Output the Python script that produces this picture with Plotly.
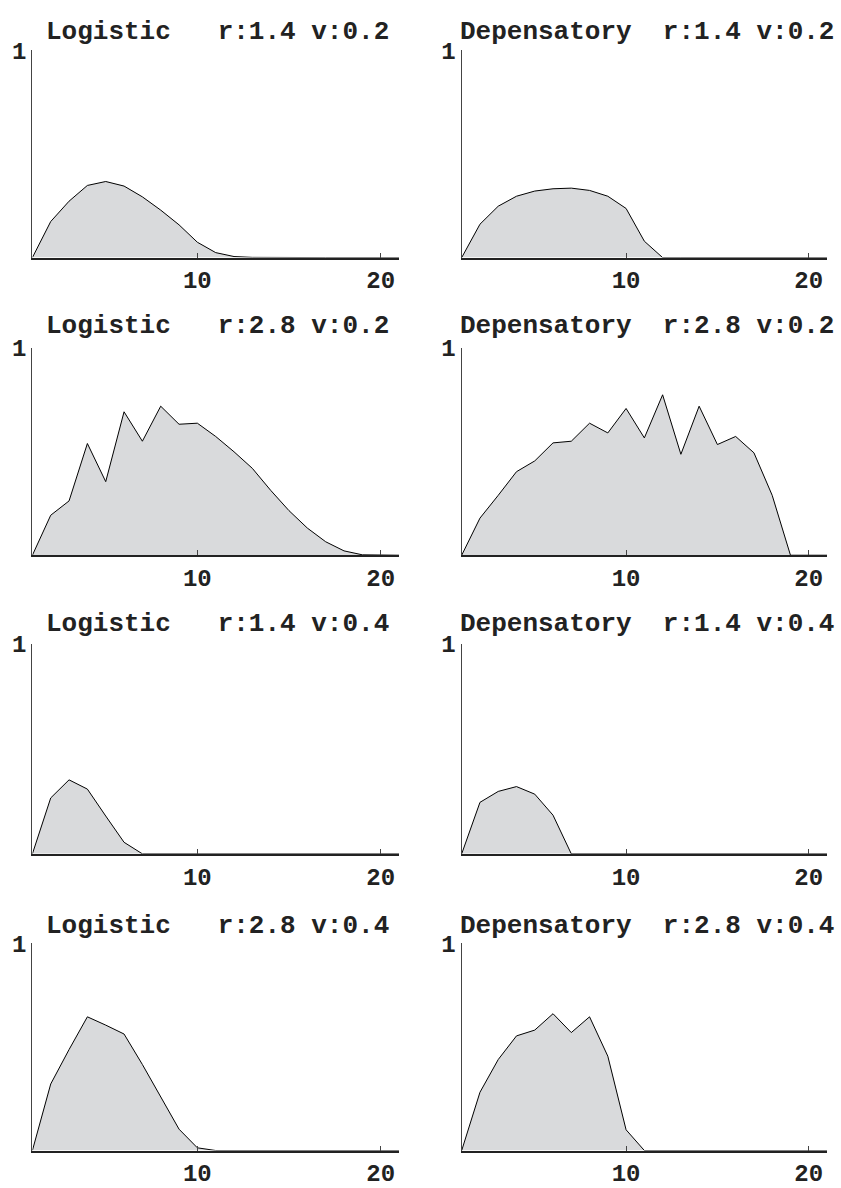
import plotly.graph_objects as go

# ---- data ----
steps = list(range(1, 22))

logistic_r14_v02 = [0, 0.174, 0.272, 0.348, 0.367, 0.345, 0.293, 0.229, 0.158, 0.074, 0.024,
                    0.005, 0.001, 0, 0, 0, 0, 0, 0, 0, 0]
depens_r14_v02 = [0, 0.161, 0.248, 0.296, 0.321, 0.332, 0.335, 0.324, 0.296, 0.237, 0.079,
                  0, 0, 0, 0, 0, 0, 0, 0, 0, 0]
logistic_r28_v02 = [0, 0.193, 0.262, 0.539, 0.355, 0.692, 0.550, 0.719, 0.632, 0.637, 0.573,
                    0.499, 0.419, 0.313, 0.215, 0.131, 0.065, 0.021, 0.002, 0, 0]
depens_r28_v02 = [0, 0.179, 0.289, 0.403, 0.455, 0.542, 0.550, 0.637, 0.590, 0.708, 0.566,
                  0.774, 0.487, 0.719, 0.534, 0.573, 0.494, 0.289, 0, 0, 0]
logistic_r14_v04 = [0, 0.266, 0.352, 0.308, 0.180, 0.055, 0, 0, 0, 0, 0,
                    0, 0, 0, 0, 0, 0, 0, 0, 0, 0]
depens_r14_v04 = [0, 0.245, 0.297, 0.320, 0.284, 0.184, 0, 0, 0, 0, 0,
                  0, 0, 0, 0, 0, 0, 0, 0, 0, 0]
logistic_r28_v04 = [0, 0.321, 0.487, 0.645, 0.605, 0.562, 0.415, 0.258, 0.103, 0.013, 0,
                    0, 0, 0, 0, 0, 0, 0, 0, 0, 0]
depens_r28_v04 = [0, 0.281, 0.439, 0.553, 0.581, 0.660, 0.569, 0.645, 0.455, 0.100, 0,
                  0, 0, 0, 0, 0, 0, 0, 0, 0, 0]

models = ["Logistic", "Depensatory"]
r_values = ["1.4", "2.8", "1.4", "2.8"]
v_values = ["0.2", "0.2", "0.4", "0.4"]
x_ticks = [10, 20]
y_ticks = [1]

panels = [
    [logistic_r14_v02, depens_r14_v02],
    [logistic_r28_v02, depens_r28_v02],
    [logistic_r14_v04, depens_r14_v04],
    [logistic_r28_v04, depens_r28_v04],
]

# ---- layout geometry (pixels) ----
W, H = 841, 1188
col_x = [(32.4, 399.0), (461.7, 827.0)]
row_y = [(39, 250), (342, 553), (643, 857), (948, 1159)]  # (top, bottom)
title_y = [20, 320, 623, 930]
title_cx = [218, 647]

font_family = "Liberation Mono, Courier New, monospace"
NB = "\u00a0"

fig = go.Figure()
annotations = []
idx = 0
for r in range(4):
    for c in range(2):
        idx += 1
        xa = "x" if idx == 1 else f"x{idx}"
        ya = "y" if idx == 1 else f"y{idx}"
        fig.add_trace(go.Scatter(
            x=steps, y=panels[r][c], mode="lines",
            line=dict(color="black", width=1),
            fill="tozeroy", fillcolor="#d9dadc",
            xaxis=xa, yaxis=ya, showlegend=False, hoverinfo="skip",
        ))
        x0, x1 = col_x[c]
        top, bot = row_y[r]
        fig.layout[f"xaxis{'' if idx == 1 else idx}"] = dict(
            domain=[x0 / W, x1 / W], range=[1, 21], anchor=ya,
            showgrid=False, zeroline=False, showline=True, linecolor="#222", linewidth=2,
            ticks="inside", ticklen=5, tickwidth=1, tickcolor="#444",
            tickvals=x_ticks, ticktext=[str(t) for t in x_ticks],
            tickfont=dict(family=font_family, size=24, color="#222", weight="bold"),
        )
        fig.layout[f"yaxis{'' if idx == 1 else idx}"] = dict(
            domain=[1 - bot / H, 1 - top / H], range=[0, 1], anchor=xa,
            showgrid=False, zeroline=False, showline=True, linecolor="#444", linewidth=1.3,
            ticks="inside", ticklen=3, tickwidth=1, tickcolor="#444",
            tickvals=y_ticks, ticktext=[str(t) for t in y_ticks],
            tickfont=dict(family=font_family, size=24, color="#222", weight="bold"),
        )
        gap = NB * 3 if c == 0 else NB * 2
        text = f"{models[c]}{gap}r:{r_values[r]}{NB}v:{v_values[r]}"
        annotations.append(dict(
            text=text, xref="paper", yref="paper",
            x=title_cx[c] / W, y=1 - title_y[r] / H,
            xanchor="center", yanchor="middle", showarrow=False,
            font=dict(family=font_family, size=26, color="#222", weight="bold"),
        ))

fig.update_layout(
    width=W, height=H, margin=dict(l=0, r=0, t=0, b=0),
    paper_bgcolor="white", plot_bgcolor="white",
    annotations=annotations,
)

fig.write_html("out.html")
